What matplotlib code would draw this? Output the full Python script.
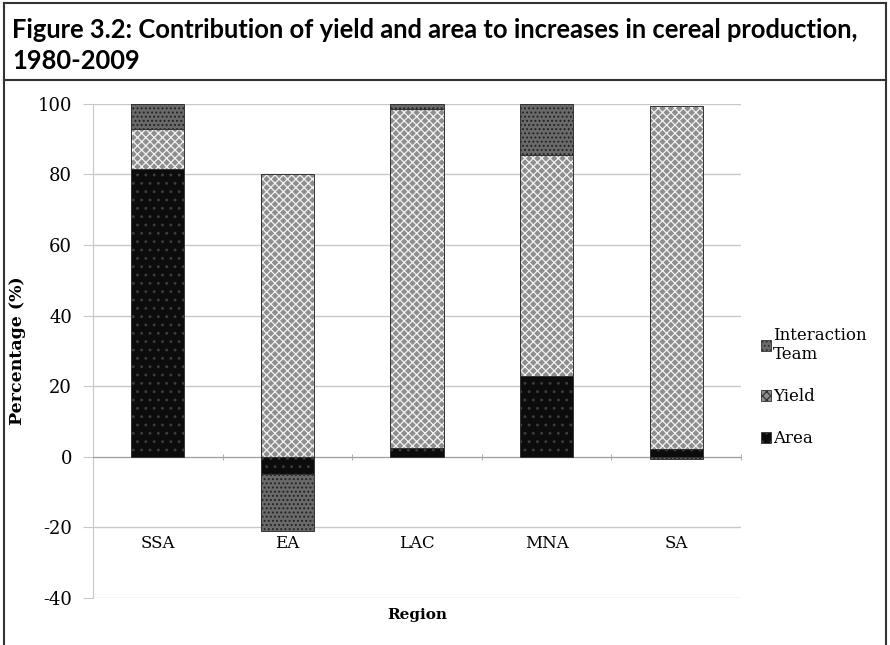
import matplotlib
matplotlib.use('Agg')
import matplotlib.pyplot as plt
from matplotlib.patches import Patch
from matplotlib.lines import Line2D
import numpy as np

# data
regions = ['SSA', 'EA', 'LAC', 'MNA', 'SA']
area = [81.5, -5.0, 2.5, 23.0, 2.3]
yield_ = [11.5, 80.0, 96.0, 62.5, 97.0]
interaction = [7.0, -16.0, 1.5, 14.5, -0.7]

title = 'Figure 3.2: Contribution of yield and area to increases in cereal production,\n1980-2009'

plt.rcParams['font.family'] = ['DejaVu Serif']
plt.rcParams['hatch.linewidth'] = 0.9
plt.rcParams['axes.unicode_minus'] = False

fig = plt.figure(figsize=(8.9, 6.45), dpi=100)
ax = fig.add_axes([0.1045, 0.073, 0.728, 0.766])

x = np.arange(len(regions))
w = 0.41

# stack positives up from zero, negatives down from zero
pos_base = np.zeros(len(regions))
neg_base = np.zeros(len(regions))
styles = {
    'Area': dict(facecolor='#0c0c0c', edgecolor='#3c3c3c', hatch='..'),
    'Yield': dict(facecolor='#8e8e8e', edgecolor='#f2f2f2', hatch='xxxx'),
    'Interaction Team': dict(facecolor='#6a6a6a', edgecolor='#222222', hatch='....'),
}
for name, vals in [('Area', area), ('Yield', yield_), ('Interaction Team', interaction)]:
    vals = np.array(vals)
    bottoms = np.where(vals >= 0, pos_base, neg_base)
    ax.bar(x, vals, w, bottom=bottoms, linewidth=0, zorder=3, **styles[name])
    # thin dark outline on top of the hatch
    ax.bar(x, vals, w, bottom=bottoms, fill=False, edgecolor='#333333', linewidth=0.7, zorder=4)
    pos_base = pos_base + np.where(vals >= 0, vals, 0)
    neg_base = neg_base + np.where(vals < 0, vals, 0)

ax.set_xlim(-0.5, 4.5)
ax.set_ylim(-40, 100)
ax.set_yticks(range(-40, 101, 20))
ax.grid(axis='y', color='#c8c8c8', linewidth=1, zorder=0)

for s in ['top', 'right']:
    ax.spines[s].set_visible(False)
ax.spines['left'].set_color('#c8c8c8')
ax.spines['bottom'].set_position(('data', 0))
ax.spines['bottom'].set_color('#a0a0a0')

ax.set_xticks(x)
ax.set_xticklabels(regions)
ax.set_xticks(np.arange(-0.5, 4.6, 1), minor=True)
ax.tick_params(axis='x', which='major', length=0, pad=56, labelsize=12)
ax.tick_params(axis='x', which='minor', length=4, direction='inout', color='#a0a0a0')
ax.tick_params(axis='y', length=7, color='#c8c8c8', pad=8, labelsize=13)

ax.set_ylabel('Percentage (%)', fontsize=12.5, fontweight='bold')
ax.yaxis.set_label_coords(-0.104, 0.5)
ax.set_xlabel('Region', fontsize=11, fontweight='bold')
ax.xaxis.set_label_coords(0.5, -0.02)

handles = [Patch(label=n, linewidth=0.6, **styles[n]) for n in ['Interaction Team', 'Yield', 'Area']]
for h in handles:
    h.set_edgecolor('#333333')
labels = ['Interaction\nTeam', 'Yield', 'Area']
fig.legend(handles, labels, loc='center left', bbox_to_anchor=(0.838, 0.40),
           frameon=False, fontsize=12, handlelength=0.6, handleheight=0.6,
           handletextpad=0.15, labelspacing=1.5)

# title band and frame
t = fig.text(0.014, 0.972, title, fontsize=20, fontweight='bold', va='top', ha='left',
             family=['Lato', 'DejaVu Sans'], linespacing=1.35)
fig.canvas.draw()
tw = t.get_window_extent().width
t.set_fontsize(20 * 848 / tw)

fig.add_artist(Line2D([0.004, 0.004], [0, 0.996], color='#333333', lw=1.5))
fig.add_artist(Line2D([0.996, 0.996], [0, 0.996], color='#333333', lw=1.5))
fig.add_artist(Line2D([0.004, 0.996], [0.996, 0.996], color='#333333', lw=1.5))
fig.add_artist(Line2D([0.004, 0.996], [0.876, 0.876], color='#333333', lw=1.5))

fig.savefig('out.png', dpi=100)
